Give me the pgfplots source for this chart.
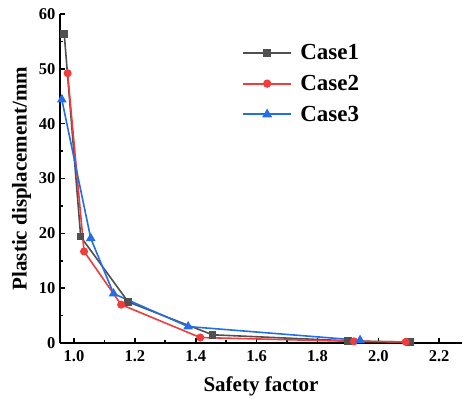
\documentclass[border=0pt]{standalone}
\usepackage{pgfplots}
\pgfplotsset{compat=1.18}
\usepackage{fontspec}
\setmainfont{Liberation Serif}
\definecolor{cgray}{RGB}{80,80,80}
\definecolor{cred}{RGB}{240,60,60}
\definecolor{cblue}{RGB}{35,110,230}
\begin{document}
\begin{tikzpicture}
\begin{axis}[
  at={(0,0)}, anchor=south west,
  scale only axis, width=402pt, height=329pt,
  xmin=0.954, xmax=2.275, ymin=0, ymax=60,
  axis lines=left, axis line style={line width=1.8pt, -},
  xtick={1.0,1.2,1.4,1.6,1.8,2.0,2.2},
  xticklabels={\textbf{1.0},\textbf{1.2},\textbf{1.4},\textbf{1.6},\textbf{1.8},\textbf{2.0},\textbf{2.2}},
  ytick={0,10,20,30,40,50,60},
  yticklabels={\textbf{0},\textbf{10},\textbf{20},\textbf{30},\textbf{40},\textbf{50},\textbf{60}},
  minor x tick num=1, minor y tick num=1,
  tick align=inside,
  major tick length=5pt, minor tick length=3pt,
  tick style={line width=1.6pt, black},
  xticklabel style={font=\fontsize{16.5}{16.5}\selectfont\bfseries, yshift=-4pt},
  yticklabel style={font=\fontsize{16.5}{16.5}\selectfont\bfseries, xshift=-1pt},
  xlabel={Safety factor},
  ylabel={Plastic displacement/mm},
  label style={font=\fontsize{21}{21}\selectfont\bfseries},
  xlabel style={yshift=-8pt},
  ylabel style={yshift=1pt},
  legend style={draw=none, fill=none, at={(0.445,0.92)}, anchor=north west,
    font=\fontsize{23}{23}\selectfont\bfseries, row sep=10pt, column sep=6pt},
  legend cell align=left,
  legend image code/.code={\draw[mark repeat=2,mark phase=2,#1,line width=1.8pt] plot coordinates {(0cm,0cm) (0.85cm,0cm) (1.7cm,0cm)};},
  clip=false,
]
\addplot[cgray, line width=1.6pt, mark=square*, mark size=3pt] coordinates {
(0.968,56.3) (1.022,19.4) (1.178,7.5) (1.455,1.5) (1.90,0.4) (2.105,0.15)};
\addlegendentry{Case1}
\addplot[cred, line width=1.6pt, mark=*, mark size=3.2pt] coordinates {
(0.979,49.2) (1.033,16.7) (1.155,7.0) (1.415,1.0) (1.92,0.3) (2.09,0.2)};
\addlegendentry{Case2}
\addplot[cblue, line width=1.6pt, mark=triangle*, mark size=4pt] coordinates {
(0.96,44.4) (1.055,19.1) (1.13,9.0) (1.375,3.0) (1.94,0.5)};
\addlegendentry{Case3}
\end{axis}
\path (-60pt,-56pt) rectangle (403pt,343pt);
\end{tikzpicture}
\end{document}
